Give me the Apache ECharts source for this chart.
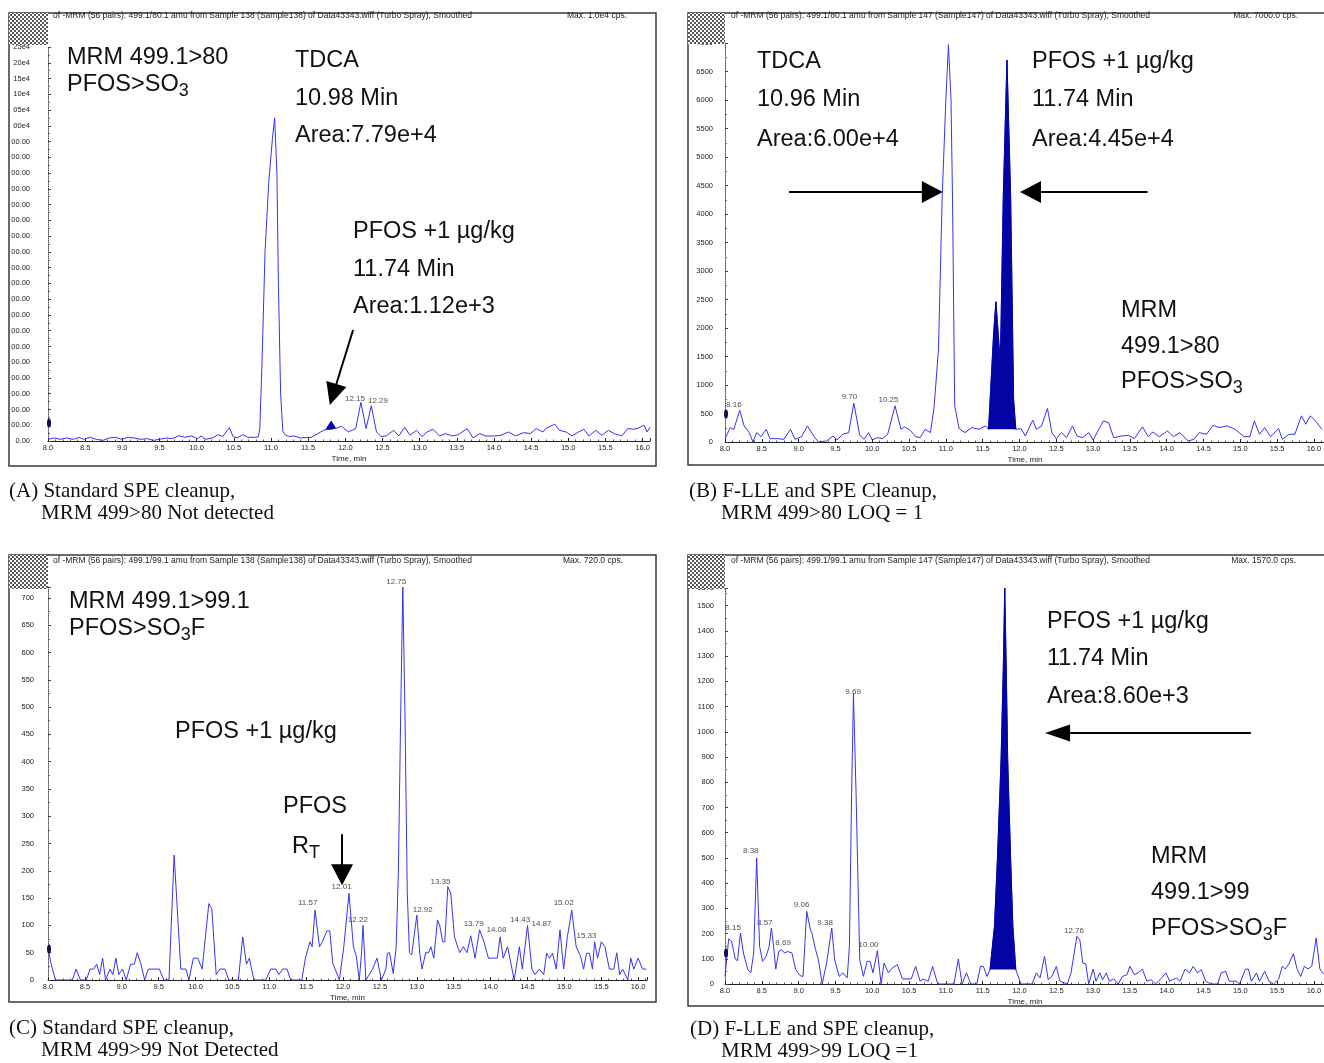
<!DOCTYPE html>
<html>
<head>
<meta charset="utf-8">
<title>PFOS MRM chromatograms</title>
<script src="https://cdn.jsdelivr.net/npm/echarts@6/dist/echarts.min.js"></script>
<style>
  html, body { margin: 0; padding: 0; background: #fff; }
  #main { width: 1324px; height: 1063px; }
</style>
</head>
<body>
<div id="main"></div>
<script>
// ---- data: [time (min), intensity (cps)] ----
var traceA = [[8.00,53],[8.08,96],[8.17,53],[8.25,96],[8.34,53],[8.42,117],[8.48,53],[8.57,117],[8.65,53],[8.74,21],[8.82,96],[8.91,117],[8.99,53],[9.08,117],[9.16,96],[9.25,53],[9.33,74],[9.42,21],[9.50,53],[9.59,96],[9.67,74],[9.76,170],[9.84,117],[9.93,160],[10.01,74],[10.06,160],[10.12,53],[10.21,96],[10.29,202],[10.35,138],[10.44,426],[10.49,138],[10.55,96],[10.62,202],[10.69,117],[10.78,117],[10.83,128],[10.85,400],[10.88,2500],[10.92,6000],[10.97,8200],[11.02,9600],[11.05,10250],[11.08,8500],[11.10,5000],[11.13,1500],[11.16,300],[11.20,180],[11.25,140],[11.31,160],[11.40,96],[11.47,110],[11.54,117],[11.63,234],[11.71,340],[11.74,360],[11.81,620],[11.87,400],[11.88,394],[11.95,468],[12.04,287],[12.14,394],[12.21,1224],[12.28,394],[12.35,1117],[12.42,287],[12.48,138],[12.55,160],[12.65,340],[12.72,160],[12.80,436],[12.87,181],[12.96,340],[13.03,138],[13.10,287],[13.18,372],[13.27,160],[13.35,234],[13.44,160],[13.52,202],[13.64,394],[13.72,96],[13.81,234],[13.89,160],[14.01,160],[14.09,181],[14.20,287],[14.29,160],[14.40,266],[14.49,234],[14.57,394],[14.66,287],[14.71,415],[14.82,532],[14.88,340],[14.97,287],[15.05,160],[15.14,287],[15.21,372],[15.28,160],[15.37,340],[15.45,181],[15.54,340],[15.62,234],[15.72,160],[15.80,394],[15.88,372],[15.95,415],[16.02,500],[16.06,287],[16.10,436]];

var traceB = [[8.00,47],[8.07,253],[8.12,223],[8.20,558],[8.26,282],[8.33,165],[8.38,0],[8.43,165],[8.49,94],[8.56,223],[8.61,59],[8.71,59],[8.80,47],[8.89,223],[8.95,47],[9.04,94],[9.12,282],[9.21,94],[9.27,0],[9.38,18],[9.47,106],[9.52,35],[9.60,135],[9.68,165],[9.75,682],[9.83,118],[9.89,47],[9.95,165],[10.00,35],[10.07,76],[10.14,59],[10.21,135],[10.31,635],[10.39,223],[10.44,265],[10.51,212],[10.59,94],[10.65,76],[10.72,223],[10.79,165],[10.84,606],[10.90,1635],[10.95,4300],[11.00,6000],[11.035,6970],[11.07,6000],[11.09,4300],[11.12,635],[11.18,235],[11.26,165],[11.35,253],[11.45,223],[11.54,282],[11.58,223],[11.65,1930],[11.68,2460],[11.74,1382],[11.78,4300],[11.83,6700],[11.88,4300],[11.92,750],[11.95,223],[12.02,235],[12.08,106],[12.18,382],[12.23,223],[12.30,282],[12.38,588],[12.44,165],[12.50,59],[12.57,165],[12.64,76],[12.72,282],[12.78,106],[12.86,76],[12.94,165],[13.00,35],[13.14,370],[13.21,341],[13.28,76],[13.39,106],[13.48,118],[13.56,59],[13.67,265],[13.75,94],[13.81,176],[13.90,94],[14.01,194],[14.09,94],[14.18,165],[14.29,18],[14.37,47],[14.44,165],[14.54,135],[14.63,294],[14.71,253],[14.82,282],[14.93,223],[15.05,94],[15.13,94],[15.19,370],[15.26,135],[15.33,253],[15.41,94],[15.52,235],[15.57,47],[15.66,135],[15.74,135],[15.83,459],[15.89,312],[15.95,459],[16.03,353],[16.11,223]];

var traceC = [[8.00,58],[8.04,31],[8.10,0],[8.33,0],[8.38,20],[8.44,0],[8.52,0],[8.57,20],[8.62,20],[8.66,29],[8.70,10],[8.74,40],[8.78,0],[8.84,20],[8.88,10],[8.92,40],[8.96,10],[9.01,20],[9.06,0],[9.12,29],[9.17,29],[9.21,50],[9.26,29],[9.31,0],[9.36,20],[9.51,20],[9.57,0],[9.64,0],[9.71,229],[9.80,20],[9.87,20],[9.91,0],[9.97,40],[10.03,40],[10.09,20],[10.18,140],[10.22,131],[10.28,10],[10.33,20],[10.40,20],[10.45,0],[10.58,0],[10.64,79],[10.69,29],[10.73,40],[10.79,0],[10.95,0],[11.02,20],[11.09,20],[11.13,10],[11.18,20],[11.24,20],[11.29,0],[11.44,0],[11.49,40],[11.55,70],[11.58,61],[11.62,128],[11.68,61],[11.72,70],[11.78,90],[11.82,90],[11.86,31],[11.95,0],[12.01,61],[12.08,159],[12.14,61],[12.18,43],[12.22,0],[12.25,49],[12.27,100],[12.31,0],[12.40,20],[12.46,40],[12.52,0],[12.58,20],[12.60,49],[12.63,50],[12.68,12],[12.72,61],[12.75,200],[12.78,480],[12.81,720],[12.84,480],[12.87,160],[12.90,50],[12.93,46],[13.00,119],[13.04,49],[13.07,20],[13.12,50],[13.16,50],[13.19,61],[13.23,40],[13.28,110],[13.31,100],[13.35,70],[13.38,70],[13.42,171],[13.46,159],[13.51,79],[13.58,50],[13.63,61],[13.68,50],[13.73,81],[13.79,40],[13.85,92],[13.91,70],[13.97,40],[14.03,40],[14.09,40],[14.13,79],[14.17,40],[14.23,61],[14.32,0],[14.39,61],[14.43,20],[14.50,100],[14.56,20],[14.60,10],[14.66,20],[14.72,10],[14.76,49],[14.80,40],[14.84,49],[14.89,20],[14.94,92],[14.99,20],[15.04,79],[15.10,128],[15.16,61],[15.22,43],[15.26,20],[15.30,49],[15.34,49],[15.38,20],[15.41,70],[15.45,40],[15.50,70],[15.55,61],[15.61,20],[15.67,20],[15.71,50],[15.75,10],[15.79,20],[15.86,0],[15.90,40],[15.94,20],[16.00,40],[16.06,20],[16.11,20]];

var traceD = [[8.00,30],[8.05,179],[8.09,169],[8.14,99],[8.17,92],[8.21,202],[8.25,123],[8.31,57],[8.35,44],[8.39,123],[8.43,500],[8.47,149],[8.51,90],[8.56,110],[8.60,149],[8.63,222],[8.66,149],[8.69,59],[8.73,129],[8.77,136],[8.81,123],[8.85,129],[8.91,123],[8.96,57],[9.02,33],[9.06,30],[9.11,288],[9.16,215],[9.18,202],[9.23,136],[9.27,96],[9.32,0],[9.38,83],[9.45,222],[9.49,96],[9.55,30],[9.60,44],[9.66,24],[9.69,149],[9.72,760],[9.745,1150],[9.78,760],[9.83,96],[9.88,30],[9.93,90],[9.97,90],[10.01,44],[10.07,132],[10.12,0],[10.16,83],[10.22,44],[10.27,63],[10.34,77],[10.41,20],[10.53,20],[10.59,70],[10.65,11],[10.69,20],[10.76,11],[10.82,70],[10.89,0],[11.11,0],[11.17,99],[11.22,0],[11.28,44],[11.34,0],[11.42,0],[11.47,70],[11.51,70],[11.56,30],[11.60,57],[11.66,228],[11.70,492],[11.75,888],[11.78,1250],[11.80,1570],[11.82,1250],[11.84,888],[11.88,492],[11.91,228],[11.95,57],[12.02,0],[12.17,0],[12.23,44],[12.28,24],[12.34,110],[12.39,17],[12.44,30],[12.50,70],[12.55,11],[12.65,0],[12.70,44],[12.78,189],[12.82,175],[12.86,83],[12.90,80],[12.94,0],[13.00,59],[13.04,11],[13.09,44],[13.13,17],[13.18,44],[13.22,11],[13.28,20],[13.34,0],[13.40,30],[13.46,37],[13.50,70],[13.56,37],[13.61,44],[13.67,59],[13.73,11],[13.79,17],[13.85,0],[13.93,24],[13.99,44],[14.04,11],[14.13,24],[14.18,11],[14.25,59],[14.31,44],[14.36,70],[14.42,44],[14.47,57],[14.53,11],[14.60,0],[14.69,0],[14.74,44],[14.80,50],[14.85,11],[14.94,11],[14.99,0],[15.07,59],[15.11,59],[15.15,11],[15.22,44],[15.26,11],[15.33,50],[15.39,11],[15.45,0],[15.52,20],[15.57,70],[15.61,60],[15.66,80],[15.72,120],[15.77,60],[15.82,30],[15.87,70],[15.92,60],[15.97,70],[16.03,182],[16.08,60],[16.13,40]];

// integrated (filled) PFOS peak: [from, to, baseline]
var fillA = [11.74, 11.87, 360];
var fillB = [11.58, 11.95, 223];
var fillD = [11.60, 11.95, 57];

// retention-time labels: [time, intensity, text]
var peaksA = [[12.13, 1174, '12.15'], [12.44, 1101, '12.29']];
var peaksB = [[8.12, 549, '8.16'], [9.69, 689, '9.70'], [10.22, 649, '10.25']];
var peaksC = [[12.72, 720, '12.75'], [11.52, 132, '11.57'], [11.98, 161, '12.01'], [12.20, 101, '12.22'], [13.08, 119, '12.92'], [13.32, 170, '13.35'], [13.77, 92, '13.79'], [14.08, 81, '14.08'], [14.40, 101, '14.43'], [14.69, 92, '14.87'], [14.99, 132, '15.02'], [15.30, 71, '15.33']];
var peaksD = [[9.74, 1138, '9.69'], [8.35, 505, '8.38'], [8.11, 202, '8.15'], [8.54, 222, '8.57'], [8.79, 143, '8.69'], [9.04, 294, '9.06'], [9.36, 222, '9.38'], [9.95, 132, '10.00'], [12.74, 190, '12.76']];

// arrows in data units: [tailTime, tailValue, headTime, headValue]
var arrowsA = [[12.105, 3522, 11.836, 1475]];
var arrowsB = [[8.87, 4386, 10.816, 4386], [13.74, 4386, 12.15, 4386]];
var arrowsC = [[11.986, 267, 11.986, 193]];
var arrowsD = [[15.143, 995, 12.517, 995]];

// threshold marker on the y axis
var markerValues = [570, 490, 57, 123];

var yMaxes = [12500, 7000, 720, 1570];
var ySteps = [500, 500, 50, 100];

var headers = [
  'of -MRM (56 pairs): 499.1/80.1 amu from Sample 138 (Sample138) of Data43343.wiff (Turbo Spray), Smoothed',
  'of -MRM (56 pairs): 499.1/80.1 amu from Sample 147 (Sample147) of Data43343.wiff (Turbo Spray), Smoothed',
  'of -MRM (56 pairs): 499.1/99.1 amu from Sample 138 (Sample138) of Data43343.wiff (Turbo Spray), Smoothed',
  'of -MRM (56 pairs): 499.1/99.1 amu from Sample 147 (Sample147) of Data43343.wiff (Turbo Spray), Smoothed'
];
var maxTexts = ['Max. 1.0e4 cps.', 'Max. 7000.0 cps.', 'Max. 720.0 cps.', 'Max. 1570.0 cps.'];
var captions = [
  ['(A) Standard SPE cleanup,', 'MRM 499>80 Not detected'],
  ['(B) F-LLE and SPE Cleanup,', 'MRM 499>80 LOQ = 1'],
  ['(C) Standard SPE cleanup,', 'MRM 499>99 Not Detected'],
  ['(D) F-LLE and SPE cleanup,', 'MRM 499>99 LOQ =1']
];

// ---- layout (pixels) ----
var SANS = '"Liberation Sans", Arial, sans-serif';
var SERIF = '"Liberation Serif", "Times New Roman", serif';
var LINE = '#3434f0';
var FILL = '#0404a4';

var layout = [
  {left: 48, top: 47, width: 602, height: 394, xMax: 16.1, yMargin: 18,
   box: [9, 13, 647, 453], checker: [9, 13, 39, 32], header: [53, 16], max: [627, 16], cap: [9, 41, 491, 513]},
  {left: 725, top: 43, width: 600, height: 399, xMax: 16.15, yMargin: 12,
   box: [688, 13, 660, 452], checker: [688, 13, 37, 31], header: [731, 16], max: [1298, 16], cap: [689, 721, 491, 513]},
  {left: 48, top: 587, width: 599, height: 393, xMax: 16.12, yMargin: 14,
   box: [9, 555, 647, 447], checker: [9, 555, 39, 34], header: [53, 561], max: [623, 561], cap: [9, 41, 1028, 1050]},
  {left: 725, top: 588, width: 600, height: 396, xMax: 16.15, yMargin: 11,
   box: [688, 555, 660, 451], checker: [688, 555, 37, 34], header: [731, 561], max: [1296, 561], cap: [690, 721, 1029, 1051]}
];

// annotation text: [x, y, text]  ({s|..} = subscript)
var notes = [
  [67, 58, 'MRM 499.1>80'], [67, 85, 'PFOS>SO{s|3}'],
  [295, 61, 'TDCA'], [295, 99, '10.98 Min'], [295, 136, 'Area:7.79e+4'],
  [353, 232, 'PFOS +1 µg/kg'], [353, 270, '11.74 Min'], [353, 307, 'Area:1.12e+3'],
  [757, 62, 'TDCA'], [757, 100, '10.96 Min'], [757, 140, 'Area:6.00e+4'],
  [1032, 62, 'PFOS +1 µg/kg'], [1032, 100, '11.74 Min'], [1032, 140, 'Area:4.45e+4'],
  [1121, 311, 'MRM'], [1121, 347, '499.1>80'], [1121, 382, 'PFOS>SO{s|3}'],
  [69, 602, 'MRM 499.1>99.1'], [69, 629, 'PFOS>SO{s|3}F'],
  [175, 732, 'PFOS +1 µg/kg'], [283, 807, 'PFOS'], [292, 847, 'R{s|T}'],
  [1047, 622, 'PFOS +1 µg/kg'], [1047, 659, '11.74 Min'], [1047, 697, 'Area:8.60e+3'],
  [1151, 857, 'MRM'], [1151, 893, '499.1>99'], [1151, 929, 'PFOS>SO{s|3}F']
];
var headSizes = [[[21, 22]], [[22, 21], [22, 21]], [[22, 21]], [[17, 25]]];

var traces = [traceA, traceB, traceC, traceD];
var fills = [fillA, fillB, null, fillD];
var peaks = [peaksA, peaksB, peaksC, peaksD];
var arrows = [arrowsA, arrowsB, arrowsC, arrowsD];

function fmtTime(v) {
  var k = v * 2;
  return Math.abs(k - Math.round(k)) < 1e-6 ? v.toFixed(1) : '';
}
// panel A: the software's wide labels are cut off by the frame
function fmtClipped(v) {
  if (v === 0) return '0.00';
  if (v >= 10000) return (v / 1e4).toFixed(2).slice(2) + 'e4';
  return v.toFixed(2).slice(-5);
}
function fmtPlain(v) { return String(v); }

function checkerCanvas() {
  var c = document.createElement('canvas');
  c.width = 4; c.height = 4;
  var ctx = c.getContext('2d');
  ctx.fillStyle = '#fff'; ctx.fillRect(0, 0, 4, 4);
  ctx.fillStyle = '#555'; ctx.fillRect(0, 0, 2, 2); ctx.fillRect(2, 2, 2, 2);
  return c;
}
var checkImg = checkerCanvas();

var series = [];
traces.forEach(function (tr, i) {
  series.push({
    type: 'line', xAxisIndex: i, yAxisIndex: i, data: tr,
    showSymbol: false, silent: true, z: 3,
    lineStyle: {color: LINE, width: 1},
    markLine: {
      silent: true, animation: false, symbol: ['none', 'triangle'],
      label: {show: false},
      lineStyle: {color: '#000', width: 2, type: 'solid'},
      itemStyle: {color: '#000'},
      data: arrows[i].map(function (a, j) {
        return [{coord: [a[0], a[1]]}, {coord: [a[2], a[3]], symbolSize: headSizes[i][j]}];
      })
    },
    markPoint: {
      silent: true, animation: false, label: {show: false},
      itemStyle: {color: '#10105a'},
      data: [{coord: [8, markerValues[i]], symbol: 'circle', symbolSize: [4, 9], symbolOffset: [1, 0]}]
    }
  });
  var f = fills[i];
  if (f) {
    series.push({
      type: 'line', xAxisIndex: i, yAxisIndex: i, z: 4,
      data: tr.filter(function (p) { return p[0] >= f[0] - 1e-9 && p[0] <= f[1] + 1e-9; }),
      showSymbol: false, silent: true,
      lineStyle: {color: FILL, width: 1},
      areaStyle: {origin: f[2], color: FILL, opacity: 1}
    });
  }
  series.push({
    type: 'scatter', xAxisIndex: i, yAxisIndex: i, data: peaks[i],
    symbolSize: 1, silent: true, itemStyle: {color: 'rgba(0,0,0,0)'},
    label: {show: true, position: 'top', distance: 1, fontSize: 8, fontFamily: SANS, color: '#222',
            formatter: function (p) { return p.data[2]; }}
  });
});

var graphics = [];
layout.forEach(function (L, i) {
  graphics.push({type: 'rect', silent: true, z: 90,
    shape: {x: L.box[0], y: L.box[1], width: L.box[2], height: L.box[3]},
    style: {fill: 'none', stroke: '#3a3a3a', lineWidth: 1.5}});
  graphics.push({type: 'rect', silent: true, z: 100,
    shape: {x: L.checker[0], y: L.checker[1], width: L.checker[2], height: L.checker[3]},
    style: {fill: {image: checkImg, repeat: 'repeat'}}});
  graphics.push({type: 'text', silent: true, z: 100, x: L.header[0], y: L.header[1],
    style: {text: headers[i], fontSize: 8.5, fontFamily: SANS, fill: '#222', verticalAlign: 'middle'}});
  graphics.push({type: 'text', silent: true, z: 100, x: L.max[0], y: L.max[1],
    style: {text: maxTexts[i], fontSize: 8.5, fontFamily: SANS, fill: '#222', align: 'right', verticalAlign: 'middle'}});
  graphics.push({type: 'text', silent: true, x: L.cap[0], y: L.cap[2],
    style: {text: captions[i][0], fontSize: 21, fontFamily: SERIF, fill: '#111', verticalAlign: 'middle'}});
  graphics.push({type: 'text', silent: true, x: L.cap[1], y: L.cap[3],
    style: {text: captions[i][1], fontSize: 21, fontFamily: SERIF, fill: '#111', verticalAlign: 'middle'}});
});
notes.forEach(function (n) {
  graphics.push({type: 'text', silent: true, z: 80, x: n[0], y: n[1],
    style: {text: n[2], fontSize: 23.5, fontFamily: SANS, fill: '#111', lineHeight: 30, verticalAlign: 'middle',
            rich: {s: {fontSize: 18, fontFamily: SANS, fill: '#111', lineHeight: 14, verticalAlign: 'bottom'}}}});
});

var chart = echarts.init(document.getElementById('main'), null, {renderer: 'canvas'});
chart.setOption({
  animation: false,
  backgroundColor: '#fff',
  grid: layout.map(function (L) {
    return {left: L.left, top: L.top, width: L.width, height: L.height, outerBoundsMode: 'none'};
  }),
  xAxis: layout.map(function (L, i) {
    return {
      gridIndex: i, type: 'value', min: 8, max: L.xMax, interval: 0.5,
      name: 'Time, min', nameLocation: 'middle', nameGap: 14,
      nameTextStyle: {fontSize: 8, fontFamily: SANS, color: '#222'},
      axisLine: {onZero: false, lineStyle: {color: '#222', width: 1}},
      axisTick: {inside: true, length: 3, lineStyle: {color: '#222'}},
      minorTick: {show: true, splitNumber: 5, length: 1.5, lineStyle: {color: '#555'}},
      axisLabel: {fontSize: 7.5, fontFamily: SANS, color: '#222', margin: 3, formatter: fmtTime},
      splitLine: {show: false}
    };
  }),
  yAxis: layout.map(function (L, i) {
    return {
      gridIndex: i, type: 'value', min: 0, max: yMaxes[i], interval: ySteps[i],
      axisLine: {show: true, onZero: false, lineStyle: {color: '#555', type: 'dotted', width: 1}},
      axisTick: {show: true, inside: true, length: 3, lineStyle: {color: '#444'}},
      minorTick: {show: true, splitNumber: 2, length: 2, lineStyle: {color: '#666'}},
      axisLabel: {fontSize: 7.5, fontFamily: SANS, color: '#222', margin: L.yMargin,
                  formatter: i === 0 ? fmtClipped : fmtPlain},
      splitLine: {show: false}
    };
  }),
  graphic: {elements: graphics},
  series: series
});
</script>
</body>
</html>
